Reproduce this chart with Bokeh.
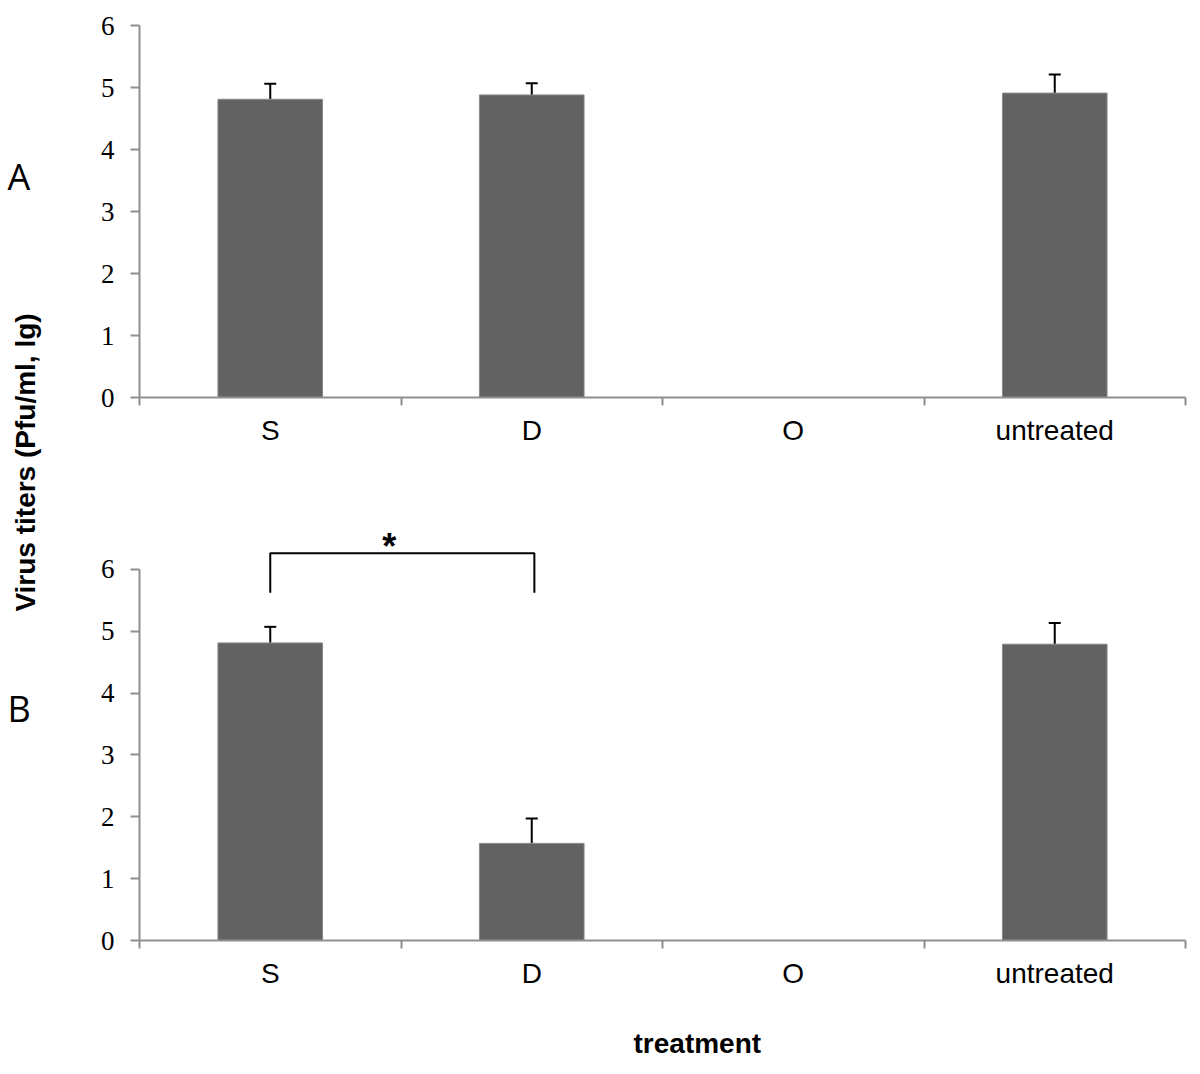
import math
from bokeh.plotting import figure
from bokeh.layouts import row, column
from bokeh.models import (Range1d, FixedTicker, Whisker, TeeHead, ColumnDataSource)
from bokeh.core.properties import value
from bokeh.embed import file_html
from bokeh.resources import INLINE

# ---------------- data ----------------
categories = ["S", "D", "O", "untreated"]
a_values = [4.81, 4.88, 0.0, 4.91]
a_errors = [0.25, 0.19, 0.0, 0.30]
b_values = [4.81, 1.57, 0.0, 4.79]
b_errors = [0.26, 0.40, 0.0, 0.34]
y_ticks = [0, 1, 2, 3, 4, 5, 6]
panel_labels = ["A", "B"]
y_title = "Virus titers (Pfu/ml, lg)"
x_title = "treatment"
sig_mark = "*"
bracket_x = [0.5, 0.5, 1.51, 1.51]
bracket_y = [5.62, 6.26, 6.26, 5.62]

centers = [i + 0.5 for i in range(len(categories))]
AXIS_COLOR = "#8f8f8f"
BAR_FILL = "#626262"
BAR_LINE = "#8a8a8a"
PANEL_W = 1142


def make_panel(values, errors, height, y_end, top, bottom):
    p = figure(width=PANEL_W, height=height, output_backend="svg", toolbar_location=None,
               x_range=Range1d(0, len(categories)), y_range=Range1d(0, y_end),
               min_border_left=81, min_border_right=15,
               min_border_top=top, min_border_bottom=bottom)
    p.outline_line_color = None
    p.xgrid.visible = False
    p.ygrid.visible = False
    p.background_fill_color = "white"

    p.vbar(x=centers, top=values, width=0.4, fill_color=BAR_FILL,
           line_color=BAR_LINE, line_width=1)

    ex = [c for c, e in zip(centers, errors) if e > 0]
    eb = [v for v, e in zip(values, errors) if e > 0]
    eu = [v + e for v, e in zip(values, errors) if e > 0]
    src = ColumnDataSource(dict(x=ex, lower=eb, upper=eu))
    w = Whisker(source=src, base="x", lower="lower", upper="upper", dimension="height",
                line_color="black", line_width=2,
                upper_head=TeeHead(size=12, line_color="black", line_width=2),
                lower_head=None)
    p.add_layout(w)

    # y axis
    ya = p.yaxis[0]
    ya.ticker = FixedTicker(ticks=y_ticks)
    ya.bounds = (0, 6)
    ya.axis_line_color = AXIS_COLOR
    ya.axis_line_width = 2
    ya.major_tick_line_color = AXIS_COLOR
    ya.major_tick_line_width = 2
    ya.major_tick_out = 9
    ya.major_tick_in = 0
    ya.minor_tick_line_color = None
    ya.major_label_standoff = 16
    ya.major_label_text_font = "Liberation Serif"
    ya.major_label_text_font_size = "27px"
    ya.major_label_text_color = "black"

    # x axis: ticks at category boundaries, labels at centers
    xa = p.xaxis[0]
    xa.ticker = FixedTicker(ticks=centers, minor_ticks=list(range(len(categories) + 1)))
    xa.major_label_overrides = {c: cat for c, cat in zip(centers, categories)}
    xa.axis_line_color = AXIS_COLOR
    xa.axis_line_width = 2
    xa.major_tick_line_color = None
    xa.major_tick_out = 0
    xa.major_tick_in = 0
    xa.minor_tick_line_color = AXIS_COLOR
    xa.minor_tick_line_width = 2
    xa.minor_tick_out = 8
    xa.minor_tick_in = 0
    xa.major_label_standoff = 9
    xa.major_label_text_font = "Liberation Sans"
    xa.major_label_text_font_size = "28px"
    xa.major_label_text_color = "black"
    return p


pa = make_panel(a_values, a_errors, 470, 6, 25, 73)
pb = make_panel(b_values, b_errors, 530, 7.5, 6, 60)

# significance bracket in panel B
pb.line(bracket_x, bracket_y, line_color="black", line_width=2)
pb.text(x=[0.955], y=[6.37], text=[sig_mark], text_align="center",
        text_baseline="alphabetic", text_font=value("Liberation Sans"),
        text_font_style="bold", text_font_size="36px", text_color="black")

# bottom strip with x title
bottom = figure(width=PANEL_W, height=74, output_backend="svg", toolbar_location=None,
                x_range=Range1d(58, 58 + PANEL_W), y_range=Range1d(1074, 1000),
                min_border=0)
bottom.axis.visible = False
bottom.grid.visible = False
bottom.outline_line_color = None
bottom.text(x=[667], y=[1043], text=[x_title], text_align="center",
            text_baseline="alphabetic", text_font=value("Liberation Sans"),
            text_font_style="bold", text_font_size="28px", text_color="black")

# left strip with panel letters and y title
strip = figure(width=58, height=1074, output_backend="svg", toolbar_location=None,
               x_range=Range1d(0, 58), y_range=Range1d(1074, 0),
               min_border=0)
strip.axis.visible = False
strip.grid.visible = False
strip.outline_line_color = None
strip.text(x=[7, 7], y=[176, 708], text=panel_labels, text_align="left",
           text_baseline="alphabetic", text_font=value("Open Sans"),
           text_font_size="36px", text_color="black")
strip.text(x=[25], y=[462], text=[y_title], angle=math.pi / 2, text_align="center",
           text_baseline="middle", text_font=value("Liberation Sans"),
           text_font_style="bold", text_font_size="28px", text_color="black")

layout = row(strip, column(pa, pb, bottom))
open("out.html", "w").write(file_html(layout, INLINE))
